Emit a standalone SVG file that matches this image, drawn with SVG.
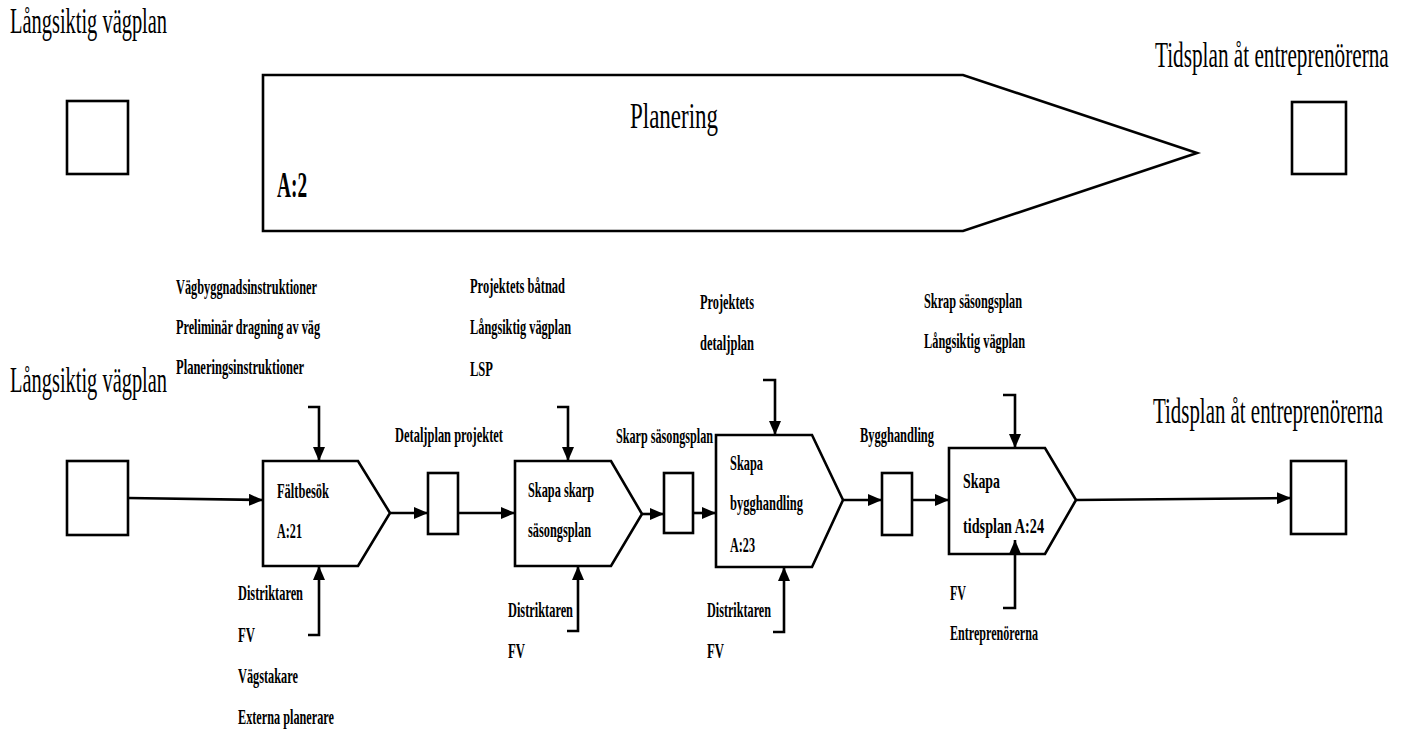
<svg xmlns="http://www.w3.org/2000/svg" width="1405" height="729" viewBox="0 0 1405 729">
  <style>
    .shape { fill: #ffffff; stroke: #000000; stroke-width: 2.6; stroke-linejoin: miter; }
    .wire { fill: none; stroke: #000000; stroke-width: 2.6; }
    .big { font-family: "Liberation Serif", "Times New Roman", serif; font-size: 36px; fill: #000000; }
    .act { font-family: "Liberation Serif", "Times New Roman", serif; font-size: 22px; font-weight: bold; fill: #000000; }
    .lbl { font-family: "Liberation Serif", "Times New Roman", serif; font-size: 21px; font-weight: bold; fill: #000000; }
  </style>
  <defs>
    <marker id="head" markerUnits="userSpaceOnUse" markerWidth="14" markerHeight="12" refX="14" refY="6" orient="auto">
      <path d="M0,0 L14,6 L0,12 z" fill="#000000"/>
    </marker>
  </defs>
  <rect width="1405" height="729" fill="#ffffff"/>

  <!-- overview row (large titles are drawn horizontally condensed) -->
  <g id="top-input">
    <text class="big" transform="translate(10,33) scale(0.567,1)" textLength="277" lengthAdjust="spacingAndGlyphs">Långsiktig vägplan</text>
    <rect class="shape" x="67" y="101" width="61" height="73"/>
  </g>
  <g id="planering">
    <polygon class="shape" points="263,75 963,75 1197,153 963,231 263,231"/>
    <text class="big" transform="translate(630,128) scale(0.62,1)" font-size="37" textLength="142" lengthAdjust="spacingAndGlyphs">Planering</text>
    <text class="big" transform="translate(277,197) scale(0.64,1)" font-size="30" font-weight="bold" textLength="47" lengthAdjust="spacingAndGlyphs">A:2</text>
  </g>
  <g id="top-output">
    <text class="big" transform="translate(1155,67) scale(0.62,1)" font-size="34" textLength="377" lengthAdjust="spacingAndGlyphs">Tidsplan åt entreprenörerna</text>
    <rect class="shape" x="1292" y="102" width="54" height="72"/>
  </g>

  <!-- detailed row -->
  <g id="input">
    <text class="big" transform="translate(10,392) scale(0.567,1)" textLength="277" lengthAdjust="spacingAndGlyphs">Långsiktig vägplan</text>
    <rect class="shape" x="67" y="461" width="61" height="74"/>
  </g>

  <g id="a21">
    <polygon class="shape" points="263,461 358,461 390,513 358,566 263,566"/>
    <text class="act" x="277" y="498" textLength="52" lengthAdjust="spacingAndGlyphs">Fältbesök</text>
    <text class="act" x="277" y="538" textLength="25" lengthAdjust="spacingAndGlyphs">A:21</text>
    <text class="lbl" x="176" y="294" textLength="141" lengthAdjust="spacingAndGlyphs">Vägbyggnadsinstruktioner</text>
    <text class="lbl" x="176" y="334" textLength="144" lengthAdjust="spacingAndGlyphs">Preliminär dragning av väg</text>
    <text class="lbl" x="176" y="374" textLength="128" lengthAdjust="spacingAndGlyphs">Planeringsinstruktioner</text>
    <text class="lbl" x="238" y="600" textLength="65" lengthAdjust="spacingAndGlyphs">Distriktaren</text>
    <text class="lbl" x="238" y="642" textLength="17" lengthAdjust="spacingAndGlyphs">FV</text>
    <text class="lbl" x="238" y="683" textLength="60" lengthAdjust="spacingAndGlyphs">Vägstakare</text>
    <text class="lbl" x="238" y="724" textLength="96" lengthAdjust="spacingAndGlyphs">Externa planerare</text>
  </g>

  <g id="detaljplan-projektet">
    <text class="lbl" x="395" y="442" textLength="108" lengthAdjust="spacingAndGlyphs">Detaljplan projektet</text>
    <rect class="shape" x="428" y="473" width="30" height="61"/>
  </g>

  <g id="a22">
    <polygon class="shape" points="515,461 611,461 642,514 611,566 515,566"/>
    <text class="act" x="528" y="497" textLength="66" lengthAdjust="spacingAndGlyphs">Skapa skarp</text>
    <text class="act" x="528" y="537" textLength="63" lengthAdjust="spacingAndGlyphs">säsongsplan</text>
    <text class="lbl" x="470" y="293" textLength="95" lengthAdjust="spacingAndGlyphs">Projektets båtnad</text>
    <text class="lbl" x="470" y="334" textLength="101" lengthAdjust="spacingAndGlyphs">Långsiktig vägplan</text>
    <text class="lbl" x="470" y="376" textLength="23" lengthAdjust="spacingAndGlyphs">LSP</text>
    <text class="lbl" x="508" y="617" textLength="65" lengthAdjust="spacingAndGlyphs">Distriktaren</text>
    <text class="lbl" x="508" y="658" textLength="17" lengthAdjust="spacingAndGlyphs">FV</text>
  </g>

  <g id="skarp-sasongsplan">
    <text class="lbl" x="616" y="443" textLength="97" lengthAdjust="spacingAndGlyphs">Skarp säsongsplan</text>
    <rect class="shape" x="664" y="473" width="29" height="60"/>
  </g>

  <g id="a23">
    <polygon class="shape" points="716,435 812,435 843,500 812,567 716,567"/>
    <text class="act" x="730" y="470" textLength="33" lengthAdjust="spacingAndGlyphs">Skapa</text>
    <text class="act" x="730" y="510" textLength="73" lengthAdjust="spacingAndGlyphs">bygghandling</text>
    <text class="act" x="730" y="552" textLength="25" lengthAdjust="spacingAndGlyphs">A:23</text>
    <text class="lbl" x="700" y="309" textLength="54" lengthAdjust="spacingAndGlyphs">Projektets</text>
    <text class="lbl" x="700" y="350" textLength="54" lengthAdjust="spacingAndGlyphs">detaljplan</text>
    <text class="lbl" x="707" y="617" textLength="64" lengthAdjust="spacingAndGlyphs">Distriktaren</text>
    <text class="lbl" x="707" y="658" textLength="17" lengthAdjust="spacingAndGlyphs">FV</text>
  </g>

  <g id="bygghandling">
    <text class="lbl" x="860" y="442" textLength="74" lengthAdjust="spacingAndGlyphs">Bygghandling</text>
    <rect class="shape" x="882" y="473" width="30" height="62"/>
  </g>

  <g id="a24">
    <polygon class="shape" points="949,448 1045,448 1076,500 1045,554 949,554"/>
    <text class="act" x="963" y="488" textLength="37" lengthAdjust="spacingAndGlyphs">Skapa</text>
    <text class="act" x="963" y="533" textLength="81" lengthAdjust="spacingAndGlyphs">tidsplan A:24</text>
    <text class="lbl" x="924" y="308" textLength="98" lengthAdjust="spacingAndGlyphs">Skrap säsongsplan</text>
    <text class="lbl" x="924" y="348" textLength="101" lengthAdjust="spacingAndGlyphs">Långsiktig vägplan</text>
    <text class="lbl" x="950" y="600" textLength="16" lengthAdjust="spacingAndGlyphs">FV</text>
    <text class="lbl" x="950" y="640" textLength="88" lengthAdjust="spacingAndGlyphs">Entreprenörerna</text>
  </g>

  <g id="output">
    <text class="big" transform="translate(1153,423) scale(0.578,1)" textLength="398" lengthAdjust="spacingAndGlyphs">Tidsplan åt entreprenörerna</text>
    <rect class="shape" x="1291" y="461" width="55" height="73"/>
  </g>

  <!-- flows, controls and mechanisms -->
  <g id="connectors">
    <path class="wire" d="M128,498 L263,500" marker-end="url(#head)"/>
    <path class="wire" d="M308,407 H319 V461" marker-end="url(#head)"/>
    <path class="wire" d="M308,635 H319 V566" marker-end="url(#head)"/>
    <path class="wire" d="M390,513 H428" marker-end="url(#head)"/>
    <path class="wire" d="M458,513 H515" marker-end="url(#head)"/>
    <path class="wire" d="M557,407 H568 V461" marker-end="url(#head)"/>
    <path class="wire" d="M567,631 H578 V566" marker-end="url(#head)"/>
    <path class="wire" d="M642,514 H664" marker-end="url(#head)"/>
    <path class="wire" d="M693,513 H716" marker-end="url(#head)"/>
    <path class="wire" d="M763,380 H775 V435" marker-end="url(#head)"/>
    <path class="wire" d="M773,632 H784 V567" marker-end="url(#head)"/>
    <path class="wire" d="M843,500 H882" marker-end="url(#head)"/>
    <path class="wire" d="M912,500 H949" marker-end="url(#head)"/>
    <path class="wire" d="M1003,395 H1015 V448" marker-end="url(#head)"/>
    <path class="wire" d="M1003,608 H1015 V540" marker-end="url(#head)"/>
    <path class="wire" d="M1076,500 L1291,498" marker-end="url(#head)"/>
  </g>
</svg>
